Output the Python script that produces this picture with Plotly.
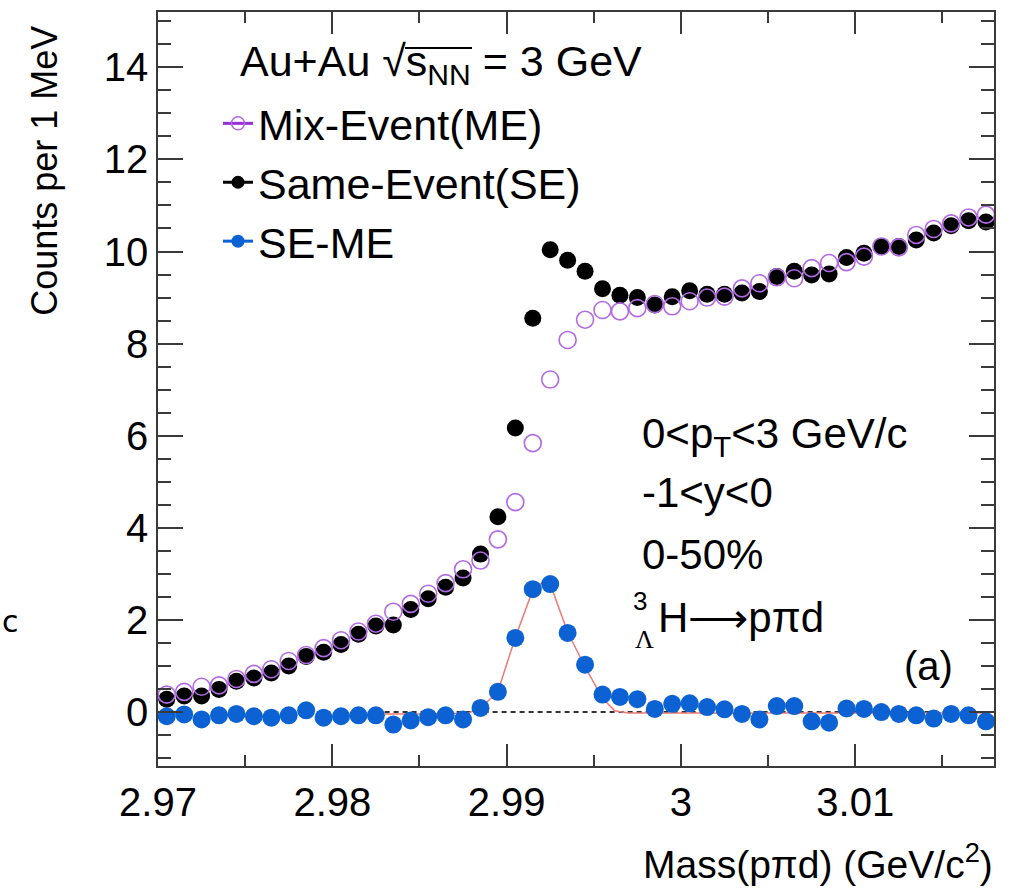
import plotly.graph_objects as go

# ---------------- data ----------------
mass = [2.9705, 2.9715, 2.9725, 2.9735, 2.9745, 2.9755, 2.9765, 2.9775, 2.9785, 2.9795,
        2.9805, 2.9815, 2.9825, 2.9835, 2.9845, 2.9855, 2.9865, 2.9875, 2.9885, 2.9895,
        2.9905, 2.9915, 2.9925, 2.9935, 2.9945, 2.9955, 2.9965, 2.9975, 2.9985, 2.9995,
        3.0005, 3.0015, 3.0025, 3.0035, 3.0045, 3.0055, 3.0065, 3.0075, 3.0085, 3.0095,
        3.0105, 3.0115, 3.0125, 3.0135, 3.0145, 3.0155, 3.0165, 3.0175]

same_event = [0.28, 0.35, 0.35, 0.49, 0.67, 0.74, 0.85, 1.00, 1.21, 1.30,
              1.47, 1.69, 1.87, 1.89, 2.23, 2.46, 2.71, 2.91, 3.43, 4.24,
              6.17, 8.55, 10.04, 9.81, 9.57, 9.19, 9.05, 9.00, 8.84, 9.02,
              9.15, 9.07, 9.07, 9.10, 9.13, 9.46, 9.57, 9.49, 9.51, 9.87,
              9.96, 10.11, 10.11, 10.25, 10.40, 10.56, 10.67, 10.64]

mix_event = [0.38, 0.44, 0.55, 0.58, 0.72, 0.83, 0.93, 1.11, 1.24, 1.39,
             1.56, 1.75, 1.92, 2.18, 2.35, 2.57, 2.80, 3.10, 3.29, 3.75,
             4.56, 5.84, 7.22, 8.08, 8.52, 8.73, 8.70, 8.77, 8.86, 8.81,
             8.92, 9.00, 9.02, 9.20, 9.31, 9.44, 9.42, 9.64, 9.75, 9.77,
             9.89, 10.11, 10.09, 10.36, 10.49, 10.61, 10.74, 10.80]

se_minus_me = [-0.09, -0.05, -0.16, -0.07, -0.04, -0.09, -0.12, -0.07, 0.04, -0.12,
               -0.09, -0.07, -0.07, -0.27, -0.18, -0.11, -0.07, -0.16, 0.09, 0.44,
               1.61, 2.67, 2.78, 1.72, 1.03, 0.38, 0.33, 0.28, 0.07, 0.18,
               0.19, 0.11, 0.06, -0.04, -0.16, 0.13, 0.13, -0.20, -0.23, 0.08,
               0.07, 0.00, -0.04, -0.07, -0.14, -0.04, -0.07, -0.20]

fit_x = [2.9830, 2.9860, 2.9878, 2.9885, 2.9895, 2.9905, 2.9915, 2.9920, 2.9925,
         2.9935, 2.9945, 2.9955, 2.9962, 2.9970, 3.0175]
fit_y = [-0.04, -0.04, -0.02, 0.08, 0.45, 1.62, 2.65, 2.80, 2.78,
         1.74, 0.98, 0.30, 0.03, -0.02, -0.02]

bkg_x = [2.9830, 3.0179]
bkg_y = [0.0, 0.0]

x_tickvals = [2.97, 2.98, 2.99, 3.00, 3.01]
x_ticktext = ["2.97", "2.98", "2.99", "3", "3.01"]
y_tickvals = [0, 2, 4, 6, 8, 10, 12, 14]
y_ticktext = ["0", "2", "4", "6", "8", "10", "12", "14"]

# ---------------- styles ----------------
FONT = "Liberation Sans, Arial, Helvetica, sans-serif"
BLUE = "#0c62d2"
PURPLE = "#b26ae4"
PURPLE_DARK = "#9430d6"
RED = "#ec7a74"
FRAME = "#3a3a3a"

W_PLOT = 836.0
H_PLOT = 755.0
L0, B0 = 158.0, 765.0


def px(xp):
    return (xp - L0) / W_PLOT


def py(yp):
    return (B0 - yp) / H_PLOT


fig = go.Figure()

fig.add_trace(go.Scatter(x=bkg_x, y=bkg_y, mode="lines", showlegend=False,
                         line=dict(color="#333333", width=2, dash="5px,4px")))
fig.add_trace(go.Scatter(x=fit_x, y=fit_y, mode="lines", showlegend=False,
                         line=dict(color=RED, width=1.5)))
fig.add_trace(go.Scatter(x=mass, y=same_event, mode="markers", showlegend=False,
                         marker=dict(symbol="circle", size=17, color="black")))
fig.add_trace(go.Scatter(x=mass, y=mix_event, mode="markers", showlegend=False,
                         marker=dict(symbol="circle-open", size=17, color=PURPLE,
                                     line=dict(width=1.6))))
fig.add_trace(go.Scatter(x=mass, y=se_minus_me, mode="markers", showlegend=False,
                         marker=dict(symbol="circle", size=18, color=BLUE)))

# legend entries
fig.add_trace(go.Scatter(x=[None], y=[None], mode="lines+markers", name="Mix-Event(ME)",
                         line=dict(color=PURPLE_DARK, width=3),
                         marker=dict(symbol="circle-open", size=13, color=PURPLE,
                                     line=dict(width=1.5))))
fig.add_trace(go.Scatter(x=[None], y=[None], mode="lines+markers", name="Same-Event(SE)",
                         line=dict(color="black", width=3),
                         marker=dict(symbol="circle", size=13, color="black")))
fig.add_trace(go.Scatter(x=[None], y=[None], mode="lines+markers", name="SE-ME",
                         line=dict(color=BLUE, width=3),
                         marker=dict(symbol="circle", size=13, color=BLUE)))

axis_common = dict(showline=True, linecolor=FRAME, linewidth=1.5, mirror="allticks",
                   ticks="inside", tickcolor=FRAME, tickwidth=1.5,
                   showgrid=False, zeroline=False,
                   tickfont=dict(family=FONT, size=40, color="black"))

fig.update_xaxes(range=[2.97, 3.01796], tickmode="array", tickvals=x_tickvals,
                 ticktext=x_ticktext, ticklen=22,
                 minor=dict(tickmode="linear", tick0=2.97, dtick=0.005, ticks="inside",
                            ticklen=11, tickcolor=FRAME, tickwidth=1.5),
                 **axis_common)
fig.update_yaxes(range=[-1.17, 15.2], tickmode="array", tickvals=y_tickvals,
                 ticktext=y_ticktext, ticklen=25,
                 minor=dict(tickmode="linear", tick0=0, dtick=0.5, ticks="inside",
                            ticklen=13, tickcolor=FRAME, tickwidth=1.5),
                 **axis_common)

annotations = [
    dict(text="Counts per 1 MeV", x=px(45), y=py(169), xref="paper", yref="paper",
         textangle=-90, showarrow=False, xanchor="center", yanchor="middle",
         font=dict(family=FONT, size=36, color="black")),
    dict(text="Mass(p\u03c0d) (GeV/c<sup>2</sup>)", x=px(995), y=py(861), xref="paper", yref="paper",
         showarrow=False, xanchor="right", yanchor="middle",
         font=dict(family=FONT, size=39, color="black")),
    dict(text="Au+Au \u221as<sub>NN</sub> = 3 GeV", x=px(238), y=py(62), xref="paper", yref="paper",
         showarrow=False, xanchor="left", yanchor="middle",
         font=dict(family=FONT, size=43, color="black")),
    dict(text="0&lt;p<sub>T</sub>&lt;3 GeV/c", x=px(640), y=py(435), xref="paper", yref="paper",
         showarrow=False, xanchor="left", yanchor="middle",
         font=dict(family=FONT, size=42, color="black")),
    dict(text="-1&lt;y&lt;0", x=px(640), y=py(491), xref="paper", yref="paper",
         showarrow=False, xanchor="left", yanchor="middle",
         font=dict(family=FONT, size=42, color="black")),
    dict(text="0-50%", x=px(640), y=py(553), xref="paper", yref="paper",
         showarrow=False, xanchor="left", yanchor="middle",
         font=dict(family=FONT, size=42, color="black")),
    dict(text="3", x=px(640), y=py(600), xref="paper", yref="paper",
         showarrow=False, xanchor="center", yanchor="middle",
         font=dict(family=FONT, size=26, color="black")),
    dict(text="\u039b", x=px(644), y=py(638), xref="paper", yref="paper",
         showarrow=False, xanchor="center", yanchor="middle",
         font=dict(family="Liberation Serif, Times New Roman, serif", size=26, color="black")),
    dict(text="H\u27f6p\u03c0d", x=px(656), y=py(616), xref="paper", yref="paper",
         showarrow=False, xanchor="left", yanchor="middle",
         font=dict(family=FONT, size=42, color="black")),
    dict(text="(a)", x=px(955), y=py(665), xref="paper", yref="paper",
         showarrow=False, xanchor="right", yanchor="middle",
         font=dict(family=FONT, size=40, color="black")),
    dict(text="c", x=px(0), y=py(620), xref="paper", yref="paper",
         showarrow=False, xanchor="left", yanchor="middle",
         font=dict(family="DejaVu Sans, sans-serif", size=30, color="black")),
]

shapes = [
    # overline of the square-root sign in the header
    dict(type="line", xref="paper", yref="paper", x0=px(405), x1=px(472),
         y0=py(46), y1=py(46), line=dict(color="black", width=2)),
]

fig.update_layout(
    width=1015, height=890,
    margin=dict(l=158, r=21, t=10, b=124, pad=0),
    paper_bgcolor="white", plot_bgcolor="white",
    annotations=annotations,
    shapes=shapes,
    legend=dict(x=px(218), y=py(87), xanchor="left", yanchor="top",
                bgcolor="rgba(0,0,0,0)", borderwidth=0, tracegroupgap=0,
                itemwidth=30, font=dict(family=FONT, size=43, color="black")),
    showlegend=True,
)

fig.write_html("out.html")
